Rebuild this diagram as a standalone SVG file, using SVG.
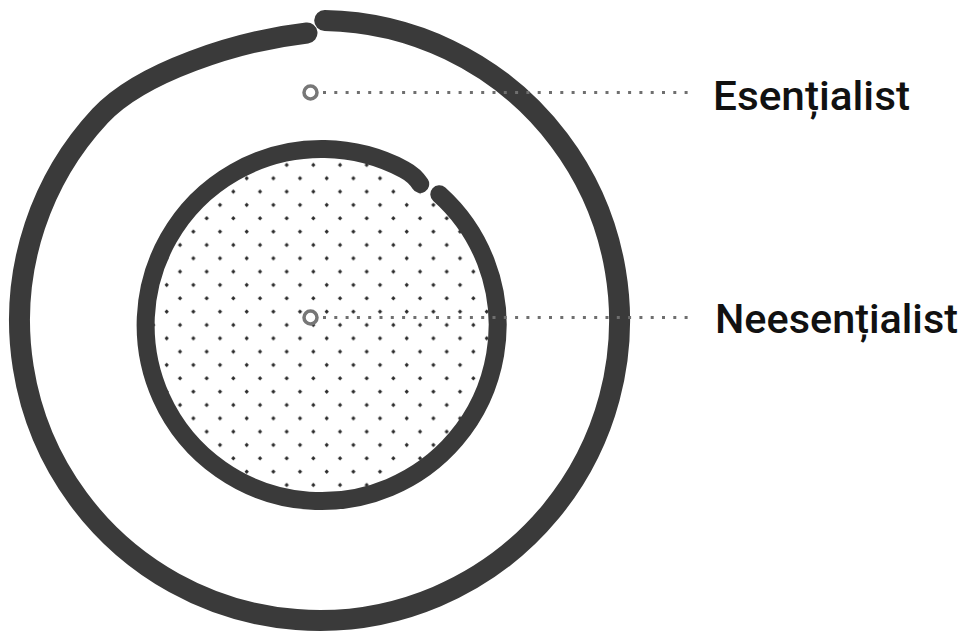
<svg xmlns="http://www.w3.org/2000/svg" width="974" height="635" viewBox="0 0 974 635">
  <style>
    .ring { fill: none; stroke: #3a3a3a; stroke-linecap: round; stroke-linejoin: round; }
    .marker { fill: none; stroke: #777777; stroke-width: 3.5; }
    .leader { stroke: #6f6f6f; stroke-width: 3; stroke-dasharray: 3 8.3; fill: none; }
    .label { font-family: Roboto, "Liberation Sans", sans-serif; font-weight: 500; font-size: 40px; fill: #111111; }
  </style>
  <defs>
    <pattern id="dots" patternUnits="userSpaceOnUse" x="0" y="11.6" width="26.67" height="26.67">
      <path d="M 6.67 4.5 L 8.84 6.67 L 6.67 8.84 L 4.5 6.67 Z" fill="#2a2a2a"/>
      <path d="M 20 17.83 L 22.17 20 L 20 22.17 L 17.83 20 Z" fill="#2a2a2a"/>
    </pattern>
    <clipPath id="innerClip">
      <circle cx="321.5" cy="325" r="172"/>
    </clipPath>
  </defs>
  <rect width="974" height="635" fill="#ffffff"/>

  <g id="outer-ring">
    <path class="ring" stroke-width="21" d="M 324.7 20.5 A 300 300 0 1 1 100.1 115.9 C 141 72, 237 41, 307 33"/>
  </g>

  <g id="inner-core">
    <circle cx="321.5" cy="325" r="172" fill="url(#dots)" clip-path="url(#innerClip)"/>
    <path class="ring" stroke-width="18" d="M 439.3 194.2 A 176 176 0 1 1 404.1 169.6 Q 414.7 175.2 420.2 184.1"/>
  </g>

  <g id="connectors">
    <line class="leader" x1="323" y1="92.5" x2="690" y2="92.5"/>
    <line class="leader" x1="323" y1="317.5" x2="690" y2="317.5"/>
  </g>

  <g id="node-esentialist">
    <circle class="marker" cx="310.5" cy="92.5" r="6.5"/>
    <text class="label" x="713" y="110" textLength="197" lengthAdjust="spacingAndGlyphs">Esențialist</text>
  </g>

  <g id="node-neesentialist">
    <circle class="marker" cx="310.5" cy="317.5" r="6.5"/>
    <text class="label" x="715" y="333" textLength="243" lengthAdjust="spacingAndGlyphs">Neesențialist</text>
  </g>
</svg>
